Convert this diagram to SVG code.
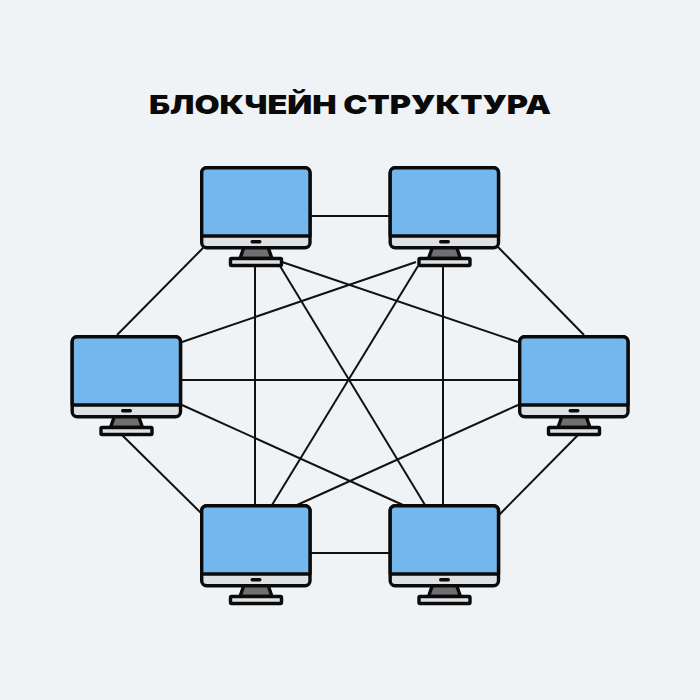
<svg xmlns="http://www.w3.org/2000/svg" width="700" height="700" viewBox="0 0 700 700">
<style>
.bg{fill:#eff3f6}
.title{font-family:"Inter","Liberation Sans",sans-serif;font-weight:900;font-size:26px;fill:#0a0a0a}
.link{stroke:#111;stroke-width:2;fill:none}
.o{stroke:#0a0a0a;stroke-width:3.4;stroke-linejoin:round}
.screen{fill:#74b7ec}
.chin{fill:#dfe0e2}
.stand{fill:#6f6f73}
.foot{fill:#dfe0e2}
</style>
<defs>
<g id="pc">
<path class="o stand" d="M44 81 H68 L72 92.500 H40Z"/>
<rect class="o foot" x="30.500" y="92.500" width="51" height="7" rx="1"/>
<rect class="o chin" x="1.700" y="1.700" width="108.300" height="80" rx="5"/>
<path class="o screen" d="M6.700 1.700 H105 A5 5 0 0 1 110 6.700 V70 H1.700 V6.700 A5 5 0 0 1 6.700 1.700Z"/>
<rect x="50.500" y="74" width="11" height="3.500" rx="1.700" fill="#0a0a0a"/>
</g>
</defs>
<rect class="bg" width="700" height="700"/>
<text class="title" x="350" y="114" text-anchor="middle" textLength="402" lengthAdjust="spacingAndGlyphs">БЛОКЧЕЙН СТРУКТУРА</text>
<g id="connectors" class="link">
<line x1="311" y1="216" x2="389" y2="216"/>
<line x1="311" y1="553" x2="389" y2="553"/>
<line x1="182" y1="380" x2="518" y2="380"/>
<line x1="255" y1="266" x2="255" y2="505"/>
<line x1="443" y1="266" x2="443" y2="505"/>
<line x1="280" y1="266" x2="425" y2="505"/>
<line x1="418" y1="266" x2="272" y2="505"/>
<line x1="282" y1="262" x2="518" y2="342"/>
<line x1="416" y1="262" x2="182" y2="342"/>
<line x1="182" y1="405" x2="403" y2="505"/>
<line x1="518" y1="405" x2="297" y2="505"/>
<line x1="203" y1="248" x2="117" y2="335"/>
<line x1="498" y1="247" x2="584" y2="335"/>
<line x1="122" y1="435" x2="201" y2="513"/>
<line x1="578" y1="435" x2="499" y2="515"/>
</g>
<g id="node-top-left"><use href="#pc" x="200" y="166"/></g>
<g id="node-top-right"><use href="#pc" x="388.500" y="166"/></g>
<g id="node-left"><use href="#pc" x="70.500" y="335"/></g>
<g id="node-right"><use href="#pc" x="518" y="335"/></g>
<g id="node-bottom-left"><use href="#pc" x="200" y="504"/></g>
<g id="node-bottom-right"><use href="#pc" x="388.500" y="504"/></g>
</svg>
